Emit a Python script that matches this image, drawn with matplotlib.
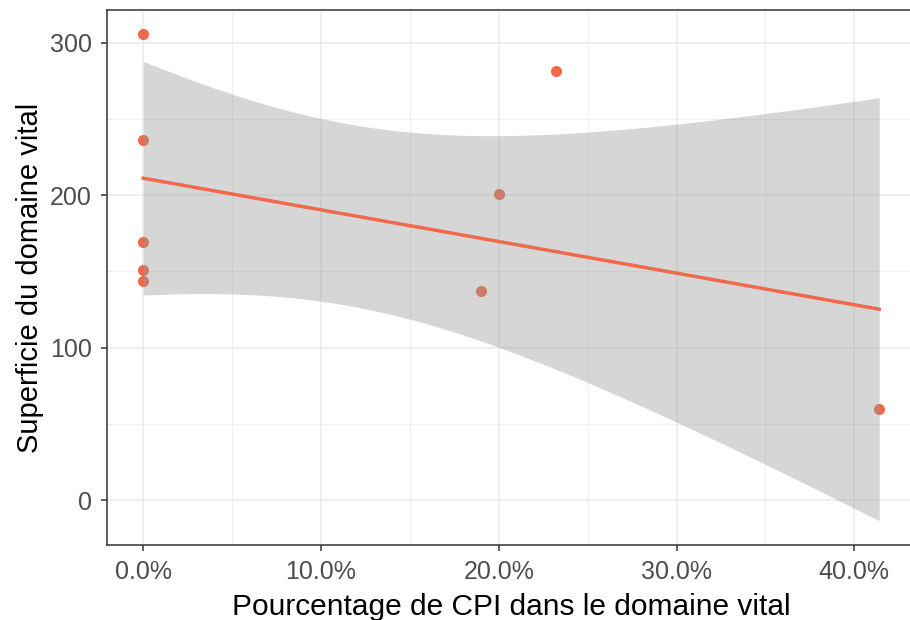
import numpy as np
import matplotlib
matplotlib.use("Agg")
import matplotlib.pyplot as plt
from matplotlib.ticker import FuncFormatter, MultipleLocator

# data
x_cpi = [0.0, 0.0, 0.0, 0.0, 0.0, 0.190, 0.200, 0.232, 0.414]
y_area = [305.5, 236.5, 169.5, 151.0, 143.5, 137.0, 201.0, 281.5, 59.5]
x_ticks = [0.0, 0.1, 0.2, 0.3, 0.4]
y_ticks = [0, 100, 200, 300]
x_label = "Pourcentage de CPI dans le domaine vital"
y_label = "Superficie du domaine vital"

plt.rcParams['font.family'] = ['Liberation Sans', 'DejaVu Sans']

x = np.array(x_cpi)
y = np.array(y_area)
n = len(x)
# linear model with 95% confidence band (as geom_smooth(method="lm"))
X = np.column_stack([np.ones(n), x])
beta, *_ = np.linalg.lstsq(X, y, rcond=None)
resid = y - X @ beta
s2 = resid @ resid / (n - 2)
XtX_inv = np.linalg.inv(X.T @ X)
xs = np.linspace(x.min(), x.max(), 80)
Xs = np.column_stack([np.ones_like(xs), xs])
fit = Xs @ beta
se = np.sqrt(s2 * np.einsum('ij,jk,ik->i', Xs, XtX_inv, Xs))
tcrit = 2.3646  # t(0.975, df=7)
lo = fit - tcrit * se
hi = fit + tcrit * se

fig = plt.figure(figsize=(9.1, 6.2), dpi=100)
ax = fig.add_axes([106.5/910, 75/620, 809.5/910, 535/620])

col = "#F0694A"
ax.scatter(x, y, s=64, color=col, zorder=3, linewidths=0)
ax.fill_between(xs, lo, hi, color="#999999", alpha=0.4, linewidth=0, zorder=4)
ax.plot(xs, fit, color=col, linewidth=2.5, zorder=5)

# limits with ggplot-like expansion
xr = x.max() - x.min()
ax.set_xlim(x.min() - 0.05 * xr, x.max() + 0.05 * xr)
ymin = min(y.min(), lo.min()); ymax = max(y.max(), hi.max())
yr = ymax - ymin
ax.set_ylim(ymin - 0.05 * yr, ymax + 0.05 * yr)

ax.set_xticks(x_ticks)
ax.set_yticks(y_ticks)
ax.xaxis.set_minor_locator(MultipleLocator(0.05))
ax.yaxis.set_minor_locator(MultipleLocator(50))
ax.xaxis.set_major_formatter(FuncFormatter(lambda v, p: f"{v*100:.1f}%"))

ax.grid(True, which='major', color="#EBEBEB", linewidth=1.1, zorder=0)
ax.grid(True, which='minor', color="#EBEBEB", linewidth=0.6, zorder=0)
ax.set_axisbelow(True)
for sp in ax.spines.values():
    sp.set_color("#333333")
    sp.set_linewidth(1.1)
ax.tick_params(axis='both', which='major', length=4.5, width=1.1, color="#333333",
               labelcolor="#4D4D4D", labelsize=18)
ax.tick_params(axis='x', which='major', pad=6.5)
ax.tick_params(axis='y', which='major', pad=6)
ax.tick_params(axis='both', which='minor', length=0)

ax.set_xlabel(x_label, fontsize=21.5, color="black", labelpad=6)
ax.set_ylabel(y_label, fontsize=21, color="black", labelpad=4)

fig.savefig("out.png", dpi=100)
